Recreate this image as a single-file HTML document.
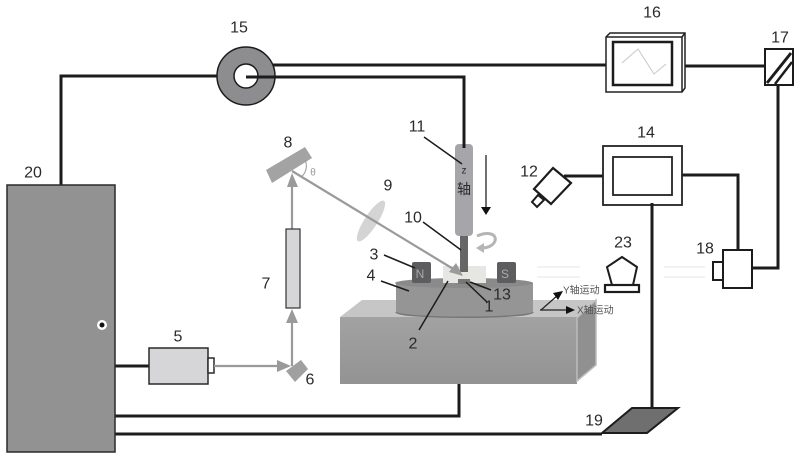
<!DOCTYPE html>
<html><head><meta charset="utf-8"><style>
html,body{margin:0;padding:0;background:#fff}
svg{display:block;filter:blur(0.35px)}
text{font-family:"Liberation Sans","Noto Sans CJK SC",sans-serif;fill:#2a2a2a;font-size:16px;text-anchor:middle;dominant-baseline:central}
.w{fill:none;stroke:#1c1c1c;stroke-width:3}
.b{fill:none;stroke:#9a9a9a;stroke-width:2.2}
.l{stroke:#1c1c1c;stroke-width:1.5;fill:none}
.s{font-size:10px;fill:#555;text-anchor:start}
</style></head><body>
<svg width="800" height="459" viewBox="0 0 800 459" xmlns="http://www.w3.org/2000/svg">
<defs>
<linearGradient id="fr" x1="0" y1="0" x2="0" y2="1"><stop offset="0" stop-color="#a2a2a2"/><stop offset="1" stop-color="#939393"/></linearGradient>
</defs>
<rect width="800" height="459" fill="#fff"/>
<!-- faint lines -->
<g stroke="#eee" stroke-width="1.5"><path d="M537 267H580M537 277H580M664 267H705M664 277H705"/></g>
<!-- wires -->
<path class="w" d="M61 185V76H217"/>
<path class="w" d="M272 65H606"/>
<path class="w" d="M246 77H464V147"/>
<path class="w" d="M682 66H765"/>
<path class="w" d="M778 85V268H752"/>
<path class="w" d="M682 175H738V250"/>
<path class="w" d="M564 176H603"/>
<path class="w" d="M652 203V408"/>
<path class="w" d="M115 366H149"/>
<path class="w" d="M115 416H459V384"/>
<path class="w" d="M115 434H602"/>
<!-- controller 20 -->
<rect x="7" y="185" width="108" height="267" fill="#929292" stroke="#2a2a2a" stroke-width="1.5"/>
<circle cx="102" cy="325" r="5" fill="#fff"/><circle cx="102" cy="325" r="2.5" fill="#111"/>
<!-- 15 -->
<circle cx="246" cy="76" r="29" fill="#8d8d8f" stroke="#1c1c1c" stroke-width="1.5"/>
<circle cx="246" cy="76" r="12" fill="#fff" stroke="#1c1c1c" stroke-width="1.5"/>
<path class="w" d="M246 77H275"/>
<!-- 5 -->
<rect x="149" y="348" width="59" height="36" fill="#d6d6d8" stroke="#2a2a2a" stroke-width="1.5"/>
<rect x="208" y="358" width="6" height="15" fill="#fff" stroke="#2a2a2a" stroke-width="1.5"/>
<!-- beams -->
<path class="b" d="M214 366H280"/><path d="M277 360L291 366L277 372Z" fill="#9a9a9a"/>
<path class="b" d="M292 366V320"/><path d="M286 323L292 309L298 323Z" fill="#9a9a9a"/>
<path class="b" d="M292 229V185"/><path d="M287 187L292 173L298 187Z" fill="#9a9a9a"/>
<!-- 6 -->
<path d="M286 371L301 360L308 369L295 382Z" fill="#a0a0a0"/>
<!-- 7 -->
<rect x="286" y="229" width="14" height="79" fill="#d6d6d8" stroke="#333" stroke-width="1.2"/>
<!-- 8 -->
<path d="M266 170L305 147L312 158L272 183Z" fill="#a3a3a3"/>
<path d="M305 160A14 14 0 0 1 301 177" fill="none" stroke="#999" stroke-width="1"/>
<text x="313" y="173" style="font-size:10px;fill:#999">θ</text>
<!-- 9 -->
<ellipse cx="371" cy="221" rx="24" ry="6.5" transform="rotate(-57 371 221)" fill="#d4d4d5"/>
<!-- block -->
<path d="M340 317L362 300H596L577 318Z" fill="#c6c6c6"/>
<rect x="340" y="317" width="237" height="67" fill="url(#fr)"/>
<path d="M577 318L596 300V365L577 381Z" fill="#909090" stroke="#bcbcbc" stroke-width="1.5"/>
<!-- disc -->
<path d="M396 283V312C396 319 533 319 533 312V283Z" fill="#959595"/>
<path d="M396 312C396 319 533 319 533 312" fill="none" stroke="#777" stroke-width="1.5"/>
<ellipse cx="464" cy="283" rx="69" ry="5" fill="#8a8a8a"/>
<!-- sample -->
<rect x="443" y="266" width="43" height="17" fill="#e6e6e2"/>
<rect x="458" y="279" width="12" height="5" fill="#777"/>
<!-- magnets -->
<rect x="412" y="262" width="19" height="21" rx="2" fill="#5d5d5f"/>
<rect x="497" y="262" width="19" height="21" rx="2" fill="#5d5d5f"/>
<text x="420" y="274" style="font-size:12px;fill:#aaa">N</text>
<text x="505" y="274" style="font-size:12px;fill:#aaa">S</text>
<!-- spindle -->
<rect x="460" y="234" width="8" height="38" fill="#666"/>
<rect x="455" y="144" width="18" height="92" rx="4" fill="#a6a6aa"/>
<path class="w" d="M464 140V148"/>
<text x="464" y="171" style="font-size:10px">z</text>
<text x="464" y="189" style="font-size:14px">轴</text>
<!-- beam over sample -->
<path class="b" d="M292 171L455 270"/><path d="M449 272L463 276L456 263Z" fill="#9a9a9a"/>
<path d="M486 155V207" stroke="#222" stroke-width="1.3" fill="none"/><path d="M481 207H491L486 215Z" fill="#111"/>
<path d="M477 236C488 231 497 234 495 241C493 246 487 248 482 248" fill="none" stroke="#b5b5b5" stroke-width="3"/>
<path d="M484 243L476 248L484 253Z" fill="#b5b5b5"/>
<!-- 16 -->
<path d="M606 37L610 33H685V88L682 92H606Z" fill="#fff" stroke="#222" stroke-width="1.5"/>
<path d="M606 37H682V92M682 37L685 33" fill="none" stroke="#222" stroke-width="1.5"/>
<rect x="613" y="42" width="59" height="43" fill="#fff" stroke="#1c1c1c" stroke-width="2.5"/>
<polyline points="622,63 638,49 654,74 666,64" fill="none" stroke="#c8c8c8" stroke-width="1"/>
<!-- 17 -->
<rect x="765" y="49" width="28" height="36" fill="#fff" stroke="#1c1c1c" stroke-width="2"/>
<path d="M767 83L791 53" stroke="#1c1c1c" stroke-width="3" fill="none"/>
<path d="M775 84L792 62" stroke="#1c1c1c" stroke-width="2.5" fill="none"/>
<!-- 14 -->
<rect x="603" y="146" width="79" height="59" fill="#fff" stroke="#222" stroke-width="1.8"/>
<rect x="613" y="157" width="59" height="38" fill="#fff" stroke="#222" stroke-width="1.8"/>
<path class="w" d="M652 203V212"/>
<!-- 12 -->
<path d="M553 168L571 183L551 204L534 189Z" fill="#fff" stroke="#1c1c1c" stroke-width="2.2"/>
<path d="M538 195L544 200L537 207L532 202Z" fill="#fff" stroke="#1c1c1c" stroke-width="2"/>
<!-- 18 -->
<rect x="723" y="250" width="29" height="38" fill="#fff" stroke="#1c1c1c" stroke-width="2"/>
<rect x="713" y="262" width="10" height="18" fill="#fff" stroke="#1c1c1c" stroke-width="2"/>
<!-- 23 -->
<path d="M622 257L637 267L633 285H612L607 267Z" fill="#fff" stroke="#1c1c1c" stroke-width="2"/>
<rect x="605" y="285" width="34" height="7" fill="#fff" stroke="#1c1c1c" stroke-width="2.2"/>
<!-- 19 -->
<path d="M602 433L632 408H678L647 433Z" fill="#6f6f6f" stroke="#1c1c1c" stroke-width="2"/>
<!-- XY axes -->
<path d="M541 310L558 295" stroke="#222" stroke-width="1.2" fill="none"/><path d="M553 293L563 291L558 300Z" fill="#111"/>
<path d="M540 310H566" stroke="#222" stroke-width="1.2" fill="none"/><path d="M566 306L575 310L566 314Z" fill="#111"/>
<text class="s" x="563" y="291">Y轴运动</text>
<text class="s" x="577" y="311">X轴运动</text>
<!-- leaders -->
<path class="l" d="M424 137L462 164M423 222L461 250M384 255L415 268M381 281L409 291M419 330L448 281M487 302L466 282M491 290L470 282"/>
<!-- labels -->
<text x="239" y="28">15</text><text x="652" y="13">16</text><text x="780" y="38">17</text>
<text x="646" y="133">14</text><text x="529" y="172">12</text><text x="705" y="249">18</text>
<text x="623" y="243">23</text><text x="417" y="127">11</text><text x="288" y="143">8</text>
<text x="388" y="186">9</text><text x="413" y="218">10</text><text x="374" y="255">3</text>
<text x="371" y="276">4</text><text x="266" y="284">7</text><text x="178" y="337">5</text>
<text x="310" y="380">6</text><text x="33" y="173">20</text><text x="594" y="421">19</text>
<text x="489" y="307">1</text><text x="502" y="295">13</text><text x="413" y="344">2</text>
</svg>
</body></html>
